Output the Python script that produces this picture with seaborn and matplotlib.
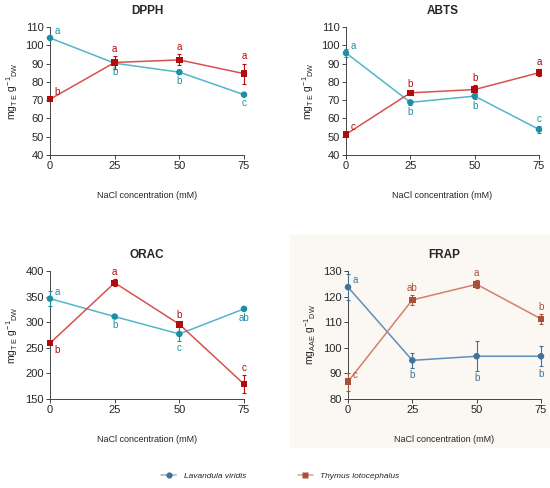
import numpy as np
import pandas as pd
import matplotlib
matplotlib.use("Agg")
import matplotlib.pyplot as plt
from matplotlib.patches import Rectangle
from matplotlib.lines import Line2D
import seaborn as sns

sns.set_style("ticks")
plt.rcParams['font.family'] = ['Liberation Sans', 'DejaVu Sans']
plt.rcParams['mathtext.fontset'] = 'custom'
plt.rcParams['mathtext.rm'] = 'Liberation Sans'
plt.rcParams['mathtext.it'] = 'Liberation Sans:italic'

nacl = [0, 25, 50, 75]
species = ["Lavandula viridis", "Thymus lotocephalus"]

# DPPH
dpph_lav = [104.0, 90.2, 85.3, 73.0]
dpph_lav_err = [0.8, 0.8, 0.8, 0.6]
dpph_thy = [70.5, 90.6, 92.0, 84.5]
dpph_thy_err = [0.8, 3.5, 3.0, 5.5]
dpph_lav_let = ["a", "b", "b", "c"]
dpph_thy_let = ["b", "a", "a", "a"]

# ABTS
abts_lav = [95.8, 68.8, 72.2, 54.0]
abts_lav_err = [2.0, 1.5, 1.8, 2.0]
abts_thy = [51.3, 74.0, 75.8, 85.0]
abts_thy_err = [1.0, 1.0, 2.5, 2.0]
abts_lav_let = ["a", "b", "b", "c"]
abts_thy_let = ["c", "b", "b", "a"]

# ORAC
orac_lav = [346, 311, 277, 326]
orac_lav_err = [15, 3, 14, 3]
orac_thy = [259, 377, 296, 179]
orac_thy_err = [4, 7, 5, 18]
orac_lav_let = ["a", "b", "c", "ab"]
orac_thy_let = ["b", "a", "b", "c"]

# FRAP
frap_lav = [123.7, 95.1, 96.7, 96.7]
frap_lav_err = [5.0, 2.8, 5.8, 4.0]
frap_thy = [86.8, 118.7, 124.8, 111.3]
frap_thy_err = [3.5, 2.0, 1.5, 2.0]
frap_lav_let = ["a", "b", "b", "b"]
frap_thy_let = ["c", "ab", "a", "b"]

W, H = 550, 488
fig = plt.figure(figsize=(5.5, 4.88), dpi=100)

# light panel behind FRAP
fig.patches.append(Rectangle((290 / W, 1 - 447 / H), 260 / W, 212 / H,
                             transform=fig.transFigure, color="#fbf8f3", zorder=-5))

def px_axes(x0, x1, ytop, ybot):
    return fig.add_axes([x0 / W, 1 - ybot / H, (x1 - x0) / W, (ybot - ytop) / H])

def place_letters(ax, vals, errs, lets, where, color):
    for x, v, e, t, w in zip(nacl, vals, errs, lets, where):
        if w == "u":
            ax.annotate(t, (x, v + e), xytext=(0, 1.5), textcoords="offset points",
                        ha="center", va="bottom", color=color, fontsize=7)
        elif w == "d":
            ax.annotate(t, (x, v - e), xytext=(0, -1.5), textcoords="offset points",
                        ha="center", va="top", color=color, fontsize=7)
        elif w == "r":
            ax.annotate(t, (x, v), xytext=(3.5, 1.5), textcoords="offset points",
                        ha="left", va="bottom", color=color, fontsize=7)
        else:
            ax.annotate(t, (x, v), xytext=(3.5, -1.5), textcoords="offset points",
                        ha="left", va="top", color=color, fontsize=7)

def panel(ax, title, lav, lav_err, thy, thy_err, lav_let, thy_let,
          lav_where, thy_where, ylim, yticks, ylabel, cols):
    lav_line, lav_mk, thy_line, thy_mk = cols
    df = pd.DataFrame({
        "x": nacl * 2,
        "y": lav + thy,
        "sp": [species[0]] * 4 + [species[1]] * 4,
    })
    sns.lineplot(data=df, x="x", y="y", hue="sp", palette=[lav_line, thy_line],
                 lw=1.1, legend=False, ax=ax, zorder=2, clip_on=False)
    ax.errorbar(nacl, lav, yerr=lav_err, fmt="none", ecolor=lav_mk, elinewidth=0.8,
                capsize=1.5, capthick=0.8, zorder=3, clip_on=False)
    ax.errorbar(nacl, thy, yerr=thy_err, fmt="none", ecolor=thy_mk, elinewidth=0.8,
                capsize=1.5, capthick=0.8, zorder=3, clip_on=False)
    sns.scatterplot(data=df, x="x", y="y", hue="sp", style="sp",
                    palette=[lav_mk, thy_mk], markers=["o", "s"], s=22,
                    edgecolor="none", legend=False, ax=ax, zorder=4, clip_on=False)
    place_letters(ax, lav, lav_err, lav_let, lav_where, lav_mk)
    place_letters(ax, thy, thy_err, thy_let, thy_where, thy_mk)
    ax.set_xlim(0, 75)
    ax.set_ylim(*ylim)
    ax.set_xticks(nacl)
    ax.set_yticks(yticks)
    ax.set_facecolor("none")
    ax.tick_params(labelsize=8, length=3, width=0.7, color="#444444", pad=1.5)
    for s in ["left", "bottom"]:
        ax.spines[s].set_linewidth(0.7)
        ax.spines[s].set_color("#444444")
    sns.despine(ax=ax)
    ax.set_title(title, fontsize=8.5, fontweight="bold", pad=9)
    ax.set_xlabel("NaCl concentration (mM)", fontsize=6.5, labelpad=14)
    ax.set_ylabel(ylabel, fontsize=7.5, labelpad=4)

te_label = r"mg$_{\rm T\ E}$ g$^{-1}$$_{\rm DW}$"
aae_label = r"mg$_{\rm AAE}$ g$^{-1}$$_{\rm DW}$"

red_cols = ["#52b6c9", "#1b8fa4", "#d6524f", "#b20b0b"]
frap_cols = ["#5f8fb8", "#41729a", "#d2806a", "#a9503a"]

ax1 = px_axes(50, 244, 27, 155)
panel(ax1, "DPPH", dpph_lav, dpph_lav_err, dpph_thy, dpph_thy_err,
      dpph_lav_let, dpph_thy_let, ["r", "d", "d", "d"], ["r", "u", "u", "u"],
      (40, 110), range(40, 111, 10), te_label, red_cols)

ax2 = px_axes(346, 539, 27, 155)
panel(ax2, "ABTS", abts_lav, abts_lav_err, abts_thy, abts_thy_err,
      abts_lav_let, abts_thy_let, ["r", "d", "d", "u"], ["r", "u", "u", "u"],
      (40, 110), range(40, 111, 10), te_label, red_cols)

ax3 = px_axes(50, 244, 271, 399)
panel(ax3, "ORAC", orac_lav, orac_lav_err, orac_thy, orac_thy_err,
      orac_lav_let, orac_thy_let, ["r", "d", "d", "d"], ["rd", "u", "u", "u"],
      (150, 400), range(150, 401, 50), te_label, red_cols)

ax4 = px_axes(348, 541, 271, 399)
panel(ax4, "FRAP", frap_lav, frap_lav_err, frap_thy, frap_thy_err,
      frap_lav_let, frap_thy_let, ["r", "d", "d", "d"], ["r", "u", "u", "u"],
      (80, 130), range(80, 131, 10), aae_label, frap_cols)

handles = [
    Line2D([], [], color="#9db8d0", lw=1.2, marker="o", ms=4.5,
           markerfacecolor="#41729a", markeredgecolor="none"),
    Line2D([], [], color="#e0a898", lw=1.2, marker="s", ms=4.5,
           markerfacecolor="#a9503a", markeredgecolor="none"),
]
fig.legend(handles, species, loc="center", bbox_to_anchor=(0.51, 1 - 476 / H),
           ncol=2, frameon=False, prop={"style": "italic", "size": 6},
           handlelength=1.8, columnspacing=6.2, handletextpad=0.9)

fig.savefig("out.png", dpi=100)
